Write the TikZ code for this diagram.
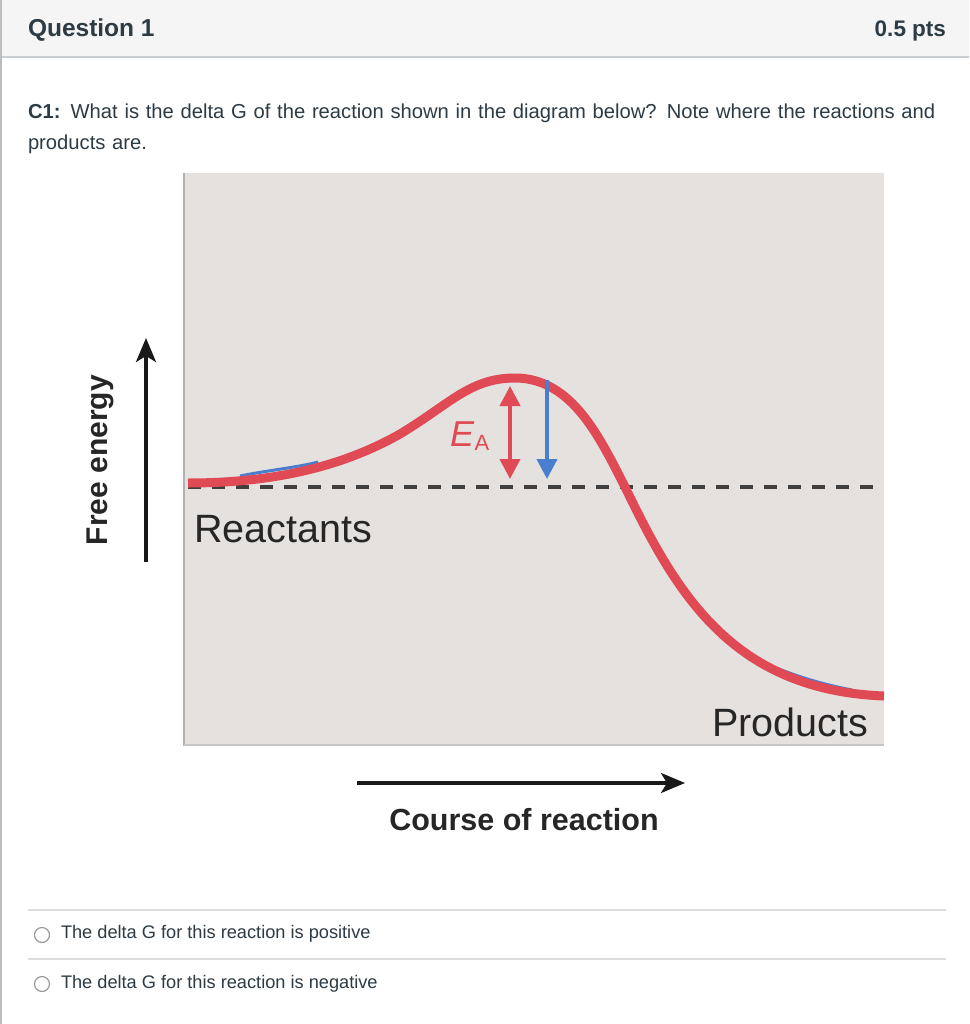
\documentclass[tikz,border=0pt]{standalone}
\usepackage{fontspec}
\setmainfont{Liberation Sans}
\usetikzlibrary{arrows.meta}
\definecolor{canvas}{HTML}{2D3B45}
\definecolor{hdrbg}{HTML}{F5F5F5}
\definecolor{hdrline}{HTML}{C7CDD1}
\definecolor{plotbg}{HTML}{E5E1DF}
\definecolor{curvered}{HTML}{E04A55}
\definecolor{arrblue}{HTML}{4A7ECF}
\definecolor{dashgray}{HTML}{3F3F3F}
\definecolor{sepline}{HTML}{DDDDDD}
\tikzset{
  txt/.style={inner sep=0pt, outer sep=0pt, text=canvas},
  opt/.style={txt, anchor=west, font=\fontsize{18.2}{21}\selectfont},
  radio/.style={draw=gray!80, line width=1.2pt, circle, minimum size=15pt, inner sep=0pt},
  lbl/.style={inner sep=0pt, text=black!85},
  axarrow/.style={line width=3.4pt, -{Stealth[length=24pt,width=20pt,inset=6pt]}},
  eahead/.tip={Triangle[length=20pt,width=20pt]},
}
\begin{document}
\begin{tikzpicture}[x=1pt,y=-1pt]
\useasboundingbox (0,0) rectangle (969,1024);
\fill[white] (0,0) rectangle (969,1024);
% header
\fill[hdrbg] (0,0) rectangle (969,57);
\draw[hdrline, line width=1.5pt] (0,57) -- (969,57);
\draw[hdrline!80!gray, line width=2pt] (1,0) -- (1,1024);
\node[txt, anchor=west, font=\bfseries\fontsize{24.5}{28}\selectfont] (q) at (28,30) {Question 1};
\node[txt, anchor=east, font=\bfseries\fontsize{22.5}{26}\selectfont] (pts) at (946,31) {0.5 pts};
% question text
\node[txt, anchor=north west, align=left, text width=925pt, font=\fontsize{20.2}{31}\selectfont] (qt) at (28,104)
  {\textbf{C1:} What is the delta G of the reaction shown in the diagram below? Note where the reactions and products are.};
% plot
\fill[plotbg] (183,173) rectangle (884,746);
\draw[gray!60, line width=2pt] (184,173) -- (184,746);
\draw[gray!45, line width=1.5pt] (184,745) -- (884,745);
% dashed reference line
\coordinate (dl) at (188,487);
\coordinate (dr) at (884,487);
\draw[dashgray, line width=3.6pt, dash pattern=on 13pt off 11pt] (dl) -- (dr);
% faint blue traces
\draw[arrblue, line width=3pt] (240,476) .. controls (270,470) and (300,467) .. (318,462);
\draw[arrblue, line width=3pt] (735,648) .. controls (770,668) and (810,682) .. (852,690);
% energy curve
\coordinate (c0) at (188,483);
\coordinate (c1) at (400,434);
\coordinate (c2) at (515,378);
\coordinate (c3) at (625,487);
\coordinate (c4) at (884,696);
\draw[curvered, line width=9pt]
  (c0) .. controls (270,483) and (340,468) .. (c1)
  .. controls (450,404) and (470,378) .. (c2)
  .. controls (572,378) and (600,438) .. (c3)
  .. controls (675,590) and (730,690) .. (c4);
% E_A arrow
\coordinate (ea1) at (510,386);
\coordinate (ea2) at (510,479);
\draw[curvered, line width=4pt, {eahead}-{eahead}] (ea1) -- (ea2);
\node[inner sep=0pt, text=curvered, font=\fontsize{36}{40}\selectfont, anchor=base west] (ea) at (450,446) {\textit{E}\raisebox{-4pt}{\fontsize{22}{24}\selectfont A}};
% blue arrow
\coordinate (b1) at (547,380);
\coordinate (b2) at (547,479);
\draw[arrblue, line width=4pt, -{eahead}] (b1) -- (b2);
% labels
\node[lbl, anchor=base west, font=\fontsize{39.5}{44}\selectfont] (react) at (194,542) {Reactants};
\node[lbl, anchor=base west, font=\fontsize{39.5}{44}\selectfont] (prod) at (712,736) {Products};
% free energy axis
\coordinate (fe1) at (146,562);
\coordinate (fe2) at (146,338);
\draw[black!90, axarrow] (fe1) -- (fe2);
\node[lbl, rotate=90, font=\bfseries\fontsize{30}{34}\selectfont] (fe) at (100,460) {Free energy};
% course axis
\coordinate (ca1) at (357,783);
\coordinate (ca2) at (685,783);
\draw[black!90, axarrow] (ca1) -- (ca2);
\node[lbl, font=\bfseries\fontsize{30.5}{34}\selectfont] (cr) at (524,820) {Course of reaction};
% options
\coordinate (s1a) at (28,910);
\coordinate (s1b) at (946,910);
\coordinate (s2a) at (28,959);
\coordinate (s2b) at (946,959);
\draw[sepline, line width=1.2pt] (s1a) -- (s1b);
\draw[sepline, line width=1.2pt] (s2a) -- (s2b);
\node[radio] (r1) at (42,935) {};
\node[radio] (r2) at (42,984) {};
\node[opt] (o1) at (61,934) {The delta G for this reaction is positive};
\node[opt] (o2) at (61,984) {The delta G for this reaction is negative};
\end{tikzpicture}
\end{document}
